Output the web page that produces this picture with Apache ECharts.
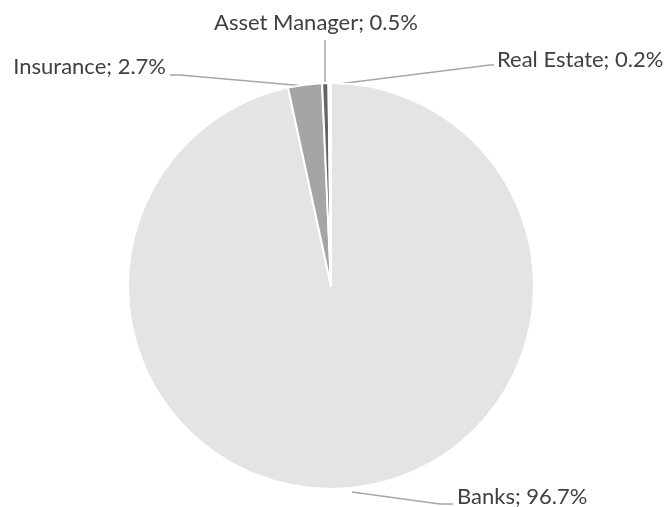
<!DOCTYPE html>
<html>
<head>
<meta charset="utf-8">
<script src="https://cdn.jsdelivr.net/npm/echarts@6/dist/echarts.min.js"></script>
<style>
  html, body { margin: 0; padding: 0; background: #fff; }
  #pieChart { width: 665px; height: 507px; }
</style>
</head>
<body>
<div id="pieChart"></div>
<script>
// sector names and their shares (%)
var sectors = ['Banks', 'Insurance', 'Asset Manager', 'Real Estate'];
var shares = [96.7, 2.7, 0.5, 0.2];
var sliceColors = ['#e4e4e4', '#a5a5a5', '#636363', '#f7f7f7'];

// where each label sits (placed by hand in the original)
var labelSpots = [
    { x: 457, y: 497, align: 'left', line: [[352, 492], [440, 504], [453, 504]] },
    { x: 166, y: 67, align: 'right', line: [[305, 86], [180, 75], [170, 75]] },
    { x: 316, y: 23, align: 'center', line: [[325, 86], [325, 40]] },
    { x: 497, y: 60, align: 'left', line: [[330, 85], [490, 65], [494, 65]] }
];

var pieData = sectors.map(function(name, i) {
    return { name: name, value: shares[i], itemStyle: { color: sliceColors[i] } };
});

var chart = echarts.init(document.getElementById('pieChart'));
var option = {
    animation: false,
    series: [{
        type: 'pie',
        center: [331, 286],
        radius: 203,
        startAngle: 90,
        clockwise: true,
        avoidLabelOverlap: false,
        data: pieData,
        itemStyle: {
            borderColor: '#ffffff',
            borderWidth: 2
        },
        label: {
            show: true,
            position: 'outside',
            formatter: '{b}; {c}%',
            fontFamily: 'Lato',
            fontSize: 22,
            color: '#404040'
        },
        labelLine: {
            show: true,
            length: 10,
            length2: 10,
            lineStyle: { color: '#a6a6a6', width: 1.5 }
        },
        labelLayout: function(params) {
            var s = labelSpots[params.dataIndex];
            return {
                x: s.x,
                y: s.y,
                align: s.align,
                verticalAlign: 'middle',
                labelLinePoints: s.line
            };
        }
    }]
};
chart.setOption(option);
</script>
</body>
</html>
